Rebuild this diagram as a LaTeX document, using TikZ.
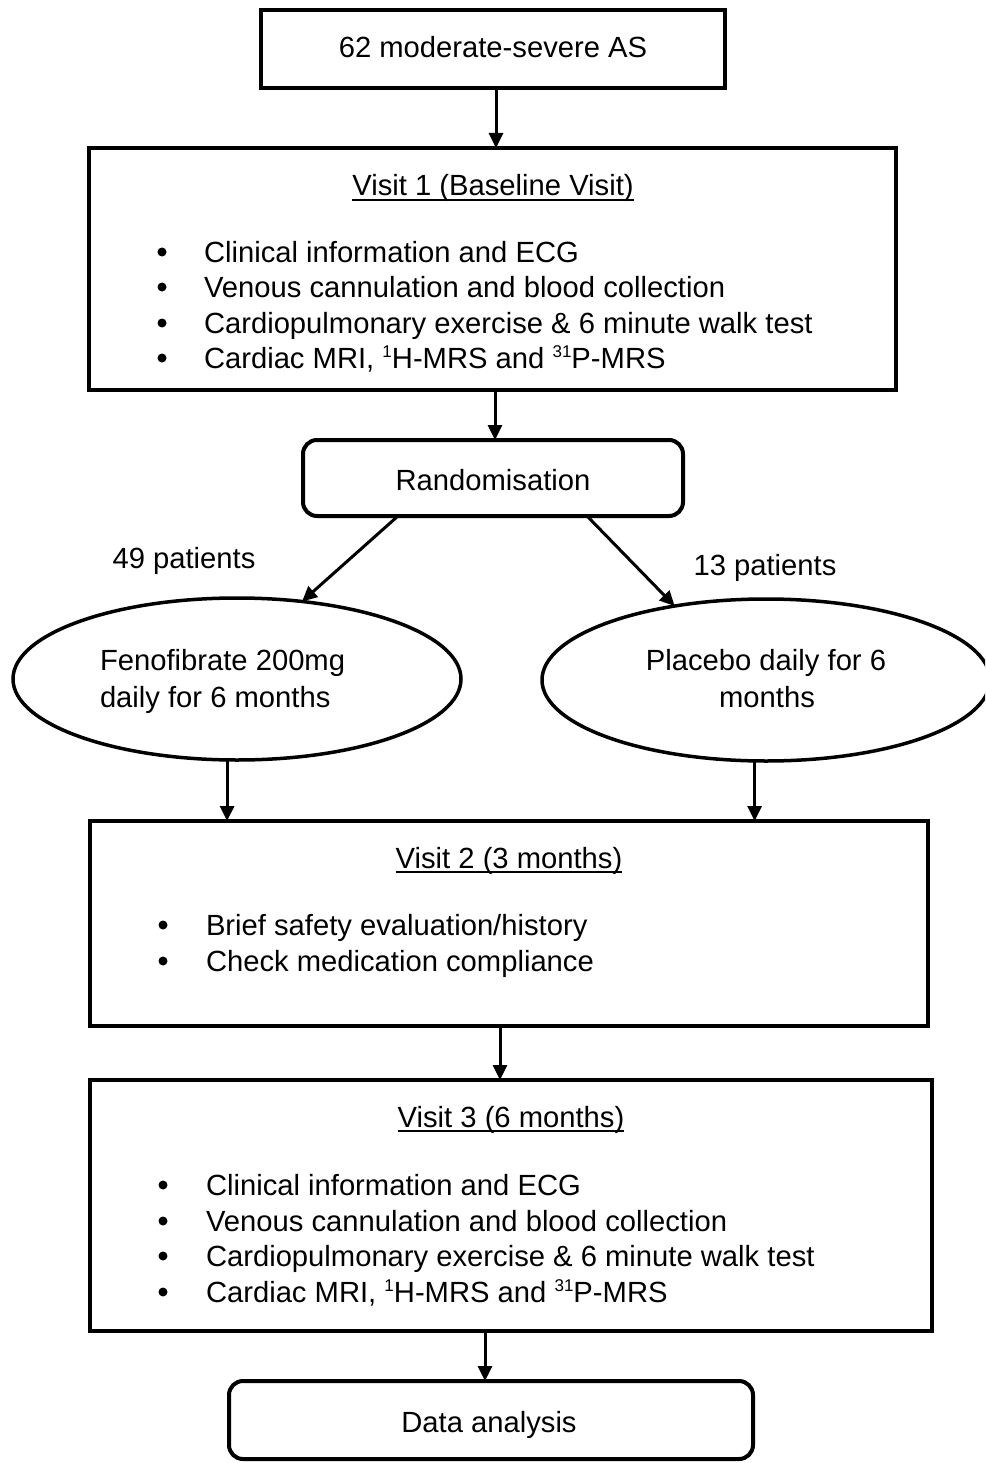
\documentclass[tikz,border=0pt]{standalone}
\usepackage{fontspec}
\setmainfont{Liberation Sans}
\usetikzlibrary{arrows.meta,shapes.geometric}
\newcommand{\supr}[1]{\raisebox{0.36em}{\fontsize{17}{17}\selectfont #1}}
\begin{document}
\begin{tikzpicture}[x=1pt,y=-1pt,
  font=\fontsize{29.2}{35}\selectfont,
  box/.style={draw, line width=4pt, rectangle, inner sep=0pt, outer sep=0pt},
  rbox/.style={box, rounded corners=14pt},
  oval/.style={draw, line width=3.5pt, ellipse, inner sep=0pt, outer sep=0pt, minimum width=448pt, minimum height=162pt},
  txt/.style={inner sep=0pt, outer sep=0pt},
  bul/.style={circle, fill=black, inner sep=0pt, outer sep=0pt, minimum size=9pt},
  arr/.style={line width=3pt, -{Triangle[length=15pt,width=14pt]}},
  uline/.style={line width=1.8pt}
]
\clip (0,0) rectangle (985,1463);
\useasboundingbox (0,0) rectangle (985,1463);
\fill[white] (0,0) rectangle (985,1463);

% boxes
\node[box, minimum width=464pt, minimum height=78pt] (top) at (493,49) {};
\node[box, minimum width=807pt, minimum height=242pt] (v1) at (492.5,269) {};
\node[rbox, minimum width=380pt, minimum height=76pt] (rand) at (493,478) {};
\node[oval] (fen) at (237,679) {};
\node[oval] (pla) at (766,680) {};
\node[box, minimum width=838pt, minimum height=205pt] (v2) at (509,923.5) {};
\node[box, minimum width=842pt, minimum height=251pt] (v3) at (511,1205.5) {};
\node[rbox, minimum width=524pt, minimum height=78pt] (data) at (491,1420) {};

% texts
\node[txt, anchor=base] (ttop) at (493,58) {62 moderate-severe AS};

\node[txt, anchor=base] (t1) at (493,196) {Visit 1 (Baseline Visit)};
\draw[uline] ([yshift=-4pt]t1.base west) -- ([yshift=-4pt]t1.base east);
\foreach \yy/\tt [count=\i] in {262/{Clinical information and ECG},
  297/{Venous cannulation and blood collection},
  333/{Cardiopulmonary exercise \& 6 minute walk test},
  368/{Cardiac MRI, \supr{1}H-MRS and \supr{31}P-MRS}}{
  \node[bul] (b1\i) at (162,\yy-10) {};
  \node[txt, anchor=base west] (l1\i) at (204,\yy) {\tt};
}

\node[txt, anchor=base] (trand) at (493,490) {Randomisation};
\node[txt, anchor=base] (n49) at (184,568) {49 patients};
\node[txt, anchor=base] (n13) at (765,575) {13 patients};

\node[txt, anchor=base west] (f1) at (100,670) {Fenofibrate 200mg};
\node[txt, anchor=base west] (f2) at (100,707) {daily for 6 months};
\node[txt, anchor=base] (p1) at (766,670) {Placebo daily for 6};
\node[txt, anchor=base] (p2) at (767,707) {months};

\node[txt, anchor=base] (t2) at (509,868) {Visit 2 (3 months)};
\draw[uline] ([yshift=-4pt]t2.base west) -- ([yshift=-4pt]t2.base east);
\foreach \yy/\tt [count=\i] in {935/{Brief safety evaluation/history},
  971/{Check medication compliance}}{
  \node[bul] (b2\i) at (163,\yy-10) {};
  \node[txt, anchor=base west] (l2\i) at (206,\yy) {\tt};
}

\node[txt, anchor=base] (t3) at (511,1127) {Visit 3 (6 months)};
\draw[uline] ([yshift=-4pt]t3.base west) -- ([yshift=-4pt]t3.base east);
\foreach \yy/\tt [count=\i] in {1195/{Clinical information and ECG},
  1231/{Venous cannulation and blood collection},
  1266/{Cardiopulmonary exercise \& 6 minute walk test},
  1302/{Cardiac MRI, \supr{1}H-MRS and \supr{31}P-MRS}}{
  \node[bul] (b3\i) at (163,\yy-10) {};
  \node[txt, anchor=base west] (l3\i) at (206,\yy) {\tt};
}

\node[txt, anchor=base] (tdata) at (489,1432) {Data analysis};

% connectors
\coordinate (s1) at (496,88);
\draw[arr] (s1) -- (s1 |- v1.north);
\coordinate (s2) at (495,390);
\draw[arr] (s2) -- (s2 |- rand.north);
\coordinate (rL) at (398,516);
\coordinate (rR) at (587,516);
\draw[arr] (rL) -- (fen.50);
\draw[arr] (rR) -- (pla.141);
\draw[arr] (fen.-97) -- (fen.-97 |- v2.north);
\draw[arr] (pla.-98) -- (pla.-98 |- v2.north);
\coordinate (s5) at (500,1026);
\draw[arr] (s5) -- (s5 |- v3.north);
\coordinate (s6) at (485,1331);
\draw[arr] (s6) -- (s6 |- data.north);
\end{tikzpicture}
\end{document}
